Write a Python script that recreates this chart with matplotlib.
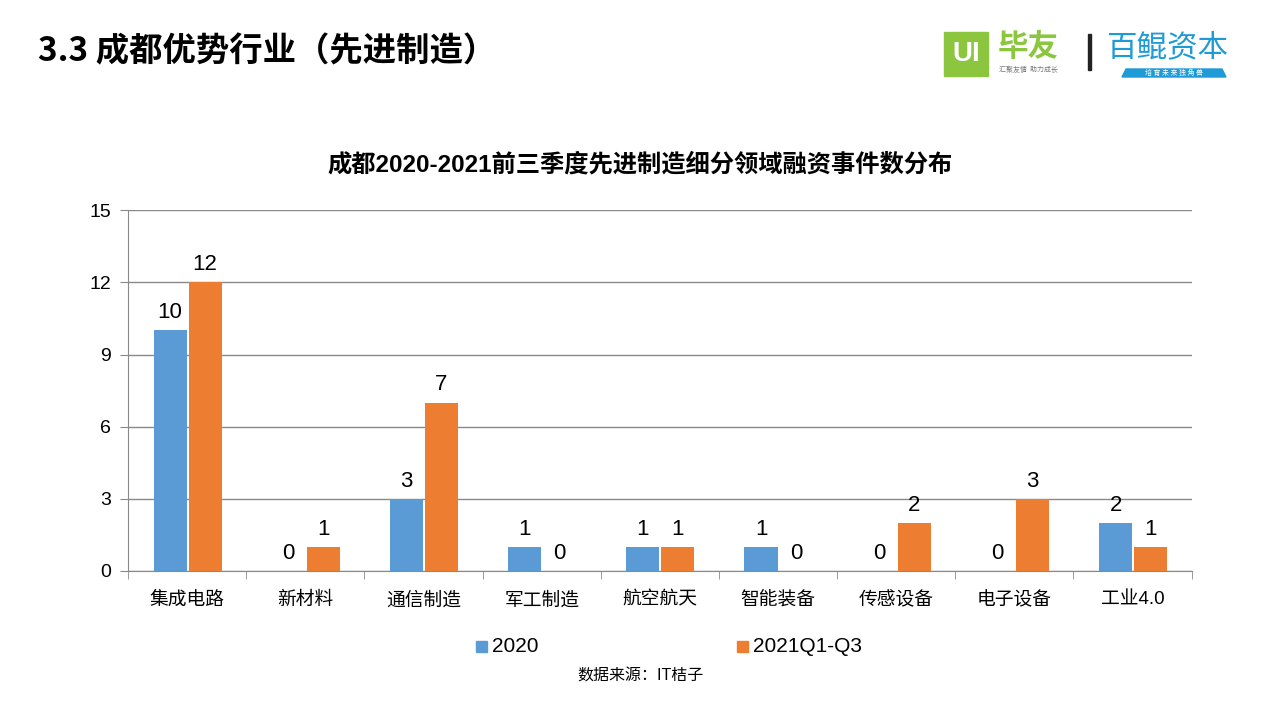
import numpy as np
import matplotlib.pyplot as plt
from matplotlib.patches import Rectangle, Polygon

plt.rcParams['font.family'] = ['Liberation Sans', 'Noto Sans CJK SC', 'DejaVu Sans']

categories = ['集成电路', '新材料', '通信制造', '军工制造', '航空航天', '智能装备', '传感设备', '电子设备', '工业4.0']
vals_2020 = [10, 0, 3, 1, 1, 1, 0, 0, 2]
vals_2021 = [12, 1, 7, 0, 1, 0, 2, 3, 1]
series_names = ['2020', '2021Q1-Q3']
yticks = [0, 3, 6, 9, 12, 15]

blue = '#5B9BD5'
orange = '#ED7D31'
grid_c = '#898989'

fig = plt.figure(figsize=(12.8, 7.2), dpi=100)
ax = fig.add_axes([0.1, 0.207, 0.831, 0.501])

x = np.arange(len(categories))
w = 0.28
b1 = ax.bar(x - w / 2 - 0.004, vals_2020, w, color=blue, label=series_names[0], zorder=3)
b2 = ax.bar(x + w / 2 + 0.012, vals_2021, w, color=orange, label=series_names[1], zorder=3)
for bars in (b1, b2):
    for r in bars:
        h = r.get_height()
        ax.text(r.get_x() + r.get_width() / 2, h + 0.3, f'{h:g}', ha='center', va='bottom',
                fontsize=16, color='#000000')

ax.set_xlim(-0.5, len(categories) - 0.5)
ax.set_ylim(0, 15)
ax.set_yticks(yticks)
ax.yaxis.grid(True, color=grid_c, linewidth=1, zorder=0)
ax.set_axisbelow(True)
for s in ['top', 'right']:
    ax.spines[s].set_visible(False)
ax.spines['left'].set_color(grid_c)
ax.spines['bottom'].set_color(grid_c)
ax.tick_params(axis='y', length=6, color=grid_c, labelsize=14, pad=6)
ax.set_xticks(x)
ax.set_xticklabels(categories, fontsize=13.5)
ax.set_xticks(np.arange(-0.5, len(categories)), minor=True)
ax.tick_params(axis='x', which='major', length=0, pad=15)
ax.tick_params(axis='x', which='minor', length=6, color=grid_c)

fig.text(0.5, 0.772, '成都2020-2021前三季度先进制造细分领域融资事件数分布', ha='center', va='center',
         fontsize=17.5, fontweight='bold')

# legend
fig.patches.append(Rectangle((476 / 1280, 1 - 652 / 720), 11 / 1280, 11 / 720,
                             transform=fig.transFigure, color=blue))
fig.text(492 / 1280, 1 - 646 / 720, series_names[0], fontsize=15, va='center')
fig.patches.append(Rectangle((737 / 1280, 1 - 652 / 720), 11 / 1280, 11 / 720,
                             transform=fig.transFigure, color=orange))
fig.text(753 / 1280, 1 - 646 / 720, series_names[1], fontsize=15, va='center')

fig.text(640 / 1280, 1 - 676 / 720, '数据来源：IT桔子', ha='center', va='center', fontsize=11.5)

# page title
fig.text(38 / 1280, 1 - 52 / 720, '3.3 成都优势行业（先进制造）', fontsize=24, fontweight='bold',
         va='center', family=['Noto Sans CJK SC', 'DejaVu Sans'])

# logos
green = '#8CC63F'
fig.patches.append(Rectangle((944 / 1280, 1 - 76 / 720), 44 / 1280, 44 / 720,
                             transform=fig.transFigure, color=green))
fig.text(966 / 1280, 1 - 54 / 720, 'UI', color='white', fontsize=20, fontweight='bold',
         ha='center', va='center')
fig.text(998 / 1280, 1 - 47 / 720, '毕友', color=green, fontsize=22, fontweight='bold',
         va='center', family=['Noto Sans CJK SC'])
fig.text(999 / 1280, 1 - 70 / 720, '汇聚友情  助力成长', color='#777777', fontsize=5,
         va='center', family=['Noto Sans CJK SC'])
fig.patches.append(Rectangle((1088 / 1280, 1 - 70 / 720), 3 / 1280, 36 / 720,
                             transform=fig.transFigure, color='#222222'))
lblue = '#1E9BD7'
fig.text(1106 / 1280, 1 - 48 / 720, '百鲲资本', color=lblue, fontsize=22, va='center',
         family=['Noto Sans CJK SC'], style='italic')
fig.patches.append(Polygon([(1122 / 1280, 1 - 77 / 720), (1226 / 1280, 1 - 77 / 720),
                            (1222 / 1280, 1 - 69 / 720), (1126 / 1280, 1 - 69 / 720)],
                           closed=True, transform=fig.transFigure, color=lblue))
fig.text(1174 / 1280, 1 - 73 / 720, '培 育 未 来 独 角 兽', color='white', fontsize=5,
         ha='center', va='center', family=['Noto Sans CJK SC'])

fig.savefig('out.png', dpi=100)
